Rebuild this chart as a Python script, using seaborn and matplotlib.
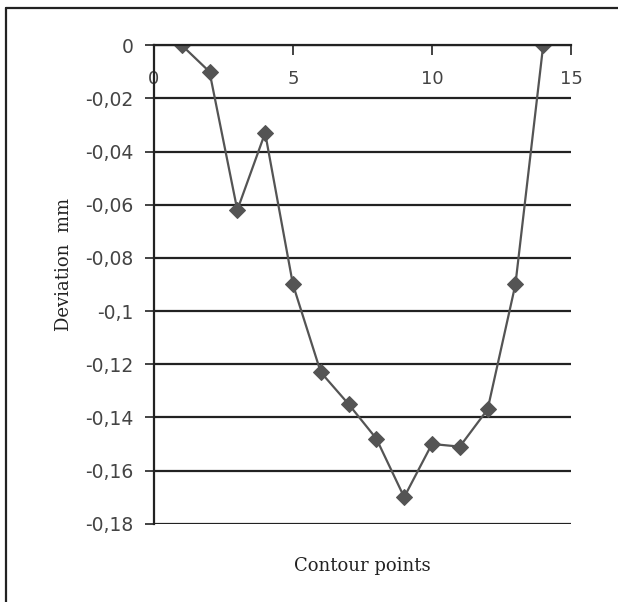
import matplotlib
matplotlib.use("Agg")
import matplotlib.pyplot as plt
import seaborn as sns
import pandas as pd
from matplotlib.ticker import FuncFormatter
from matplotlib.lines import Line2D

# valores
puntos = [1, 2, 3, 4, 5, 6, 7, 8, 9, 10, 11, 12, 13, 14]
desviacion = [0, -0.010, -0.062, -0.033, -0.090, -0.123, -0.135, -0.148,
              -0.170, -0.150, -0.151, -0.137, -0.090, 0]
x_ticks = [0, 5, 10, 15]
y_ticks = [0, -0.02, -0.04, -0.06, -0.08, -0.1, -0.12, -0.14, -0.16, -0.18]

df = pd.DataFrame({"Contour points": puntos, "Deviation mm": desviacion})

sns.set_theme(style="white")
plt.rcParams["font.family"] = ["DejaVu Sans"]

fig = plt.figure(figsize=(6.18, 6.02), dpi=100)
ax = fig.add_axes([0.249, 0.130, 0.675, 0.795])

gris = "#545454"
sns.lineplot(x="Contour points", y="Deviation mm", data=df, ax=ax,
             color=gris, linewidth=1.6, marker="D", markersize=8.5,
             markeredgecolor=gris, markerfacecolor=gris)

ax.set_xlim(0, 15)
ax.set_ylim(-0.18, 0)
ax.set_xticks(x_ticks)
ax.set_yticks(y_ticks)
ax.yaxis.set_major_formatter(FuncFormatter(lambda v, p: f"{v:g}".replace(".", ",")))

# lineas horizontales de la cuadricula
for v in y_ticks:
    ax.axhline(v, color="#222222", linewidth=1.6, zorder=0)

for s in ["right", "bottom"]:
    ax.spines[s].set_visible(False)
ax.spines["top"].set_color("#222222")
ax.spines["top"].set_linewidth(1.6)
ax.spines["left"].set_color("#222222")
ax.spines["left"].set_linewidth(1.6)

ax.tick_params(axis="x", top=True, bottom=False, labeltop=True, labelbottom=False,
               direction="in", length=7, width=1.2, color="#222222",
               pad=-31, labelsize=13, labelcolor="#444444")
ax.tick_params(axis="y", left=True, direction="out", length=6.5, width=1.2,
               color="#222222", pad=8, labelsize=13.5, labelcolor="#444444")

ax.set_xlabel("")
ax.set_ylabel("")
fig.text(0.587, 0.06, "Contour points", ha="center", va="center",
         fontsize=13, family="DejaVu Serif", color="#222222")
fig.text(0.103, 0.56, "Deviation  mm", ha="center", va="center", rotation=90,
         fontsize=13, family="DejaVu Serif", color="#222222")

# marco de la figura (solo arriba e izquierda visibles)
fig.add_artist(Line2D([6 / 618, 6 / 618], [0, 1 - 8 / 602], transform=fig.transFigure,
                      color="#222222", linewidth=1.6))
fig.add_artist(Line2D([6 / 618, 1], [1 - 8 / 602, 1 - 8 / 602], transform=fig.transFigure,
                      color="#222222", linewidth=1.6))

fig.savefig("out.png", dpi=100)
plt.close(fig)
